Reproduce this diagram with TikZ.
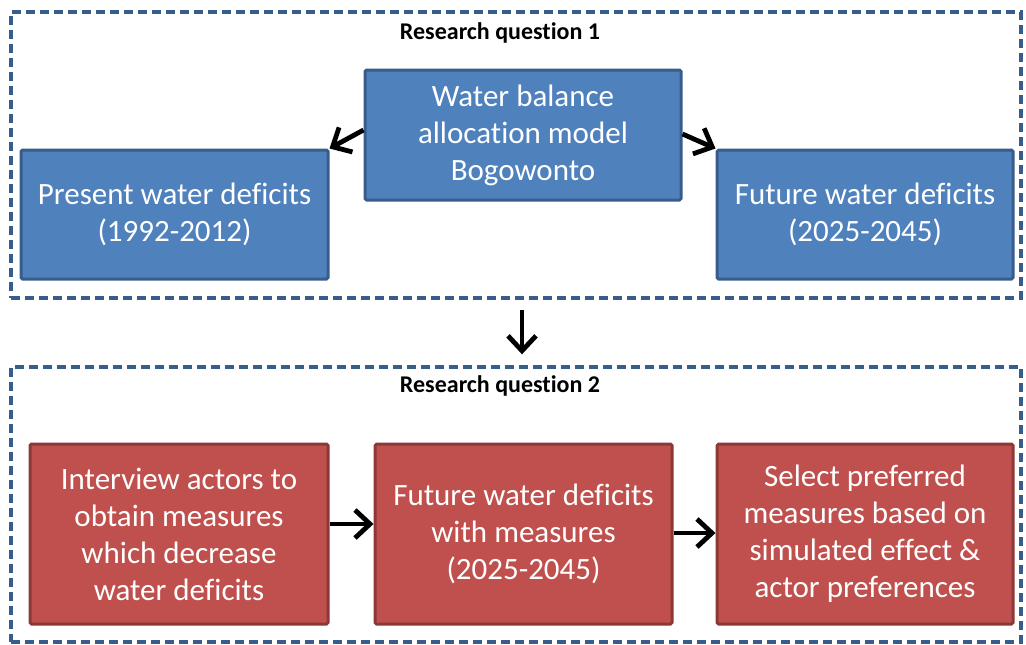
\documentclass[tikz,border=0pt]{standalone}
\usepackage{fontspec}
\setmainfont{Carlito}[Ligatures={NoCommon,NoDiscretionary,NoContextual}]
\usetikzlibrary{arrows.meta,calc}
\definecolor{bfill}{RGB}{79,129,189}
\definecolor{bline}{RGB}{56,93,138}
\definecolor{rfill}{RGB}{192,80,77}
\definecolor{rline}{RGB}{140,56,54}
\definecolor{dline}{RGB}{56,93,138}
\tikzset{
  bluebox/.style={draw=bline,fill=bfill,line width=1.5pt,text=white,align=center,
    font=\fontsize{15.5}{18.5}\selectfont,inner sep=0pt,rounded corners=0.8pt},
  redbox/.style={draw=rline,fill=rfill,line width=1.5pt,text=white,align=center,
    font=\fontsize{15.5}{18.5}\selectfont,inner sep=0pt,rounded corners=0.8pt},
  frame/.style={draw=dline,line width=1.7pt,dash pattern=on 4.5pt off 2.5pt,inner sep=0pt},
  rqlabel/.style={font=\fontsize{12}{14}\selectfont\bfseries,text=black},
  arr/.style={line width=2.4pt,-{Straight Barb[length=7.5pt,width=14pt,line width=2.4pt]}}
}
\begin{document}
\begin{tikzpicture}[x=0.5pt,y=-0.5pt]
\useasboundingbox (0,0) rectangle (1026,644);
\node[frame,minimum width=505pt,minimum height=143pt] (rq1box) at (516,155) {};
\node[frame,minimum width=505pt,minimum height=137.5pt] (rq2box) at (516,504.5) {};
\node[rqlabel] (rq1) at (500,33) {Research question 1};
\node[rqlabel] (rq2) at (500,386) {Research question 2};
\node[bluebox,minimum width=153.5pt,minimum height=64.5pt] (present) at (174.5,214.5) {Present water deficits\\(1992-2012)};
\node[bluebox,minimum width=158pt,minimum height=65pt] (wb) at (523,135) {Water balance\\allocation model\\Bogowonto};
\node[bluebox,minimum width=148pt,minimum height=64.5pt] (future) at (865,214.5) {Future water deficits\\(2025-2045)};
\node[redbox,minimum width=149pt,minimum height=90pt] (interview) at (179,534) {Interview actors to\\obtain measures\\which decrease\\water deficits};
\node[redbox,minimum width=148.5pt,minimum height=90pt] (fwm) at (523.5,534) {Future water deficits\\with measures\\(2025-2045)};
\node[redbox,minimum width=148pt,minimum height=90pt] (select) at (865,534) {Select preferred\\measures based on\\simulated effect \&\\actor preferences};
\draw[arr] ($(wb.west)+(0,-5)$) -- (present.north east);
\draw[arr] ($(wb.east)+(0,-1)$) -- (future.north west);
\draw[arr] ($(rq1box.south)+(6,10)$) -- ($(rq2box.north)+(6,-11)$);
\draw[arr] ($(interview.east)+(0,-10)$) -- ($(fwm.west)+(0,-10)$);
\draw[arr] ($(fwm.east)+(0,-1)$) -- ($(select.west)+(0,-1)$);
\end{tikzpicture}
\end{document}
